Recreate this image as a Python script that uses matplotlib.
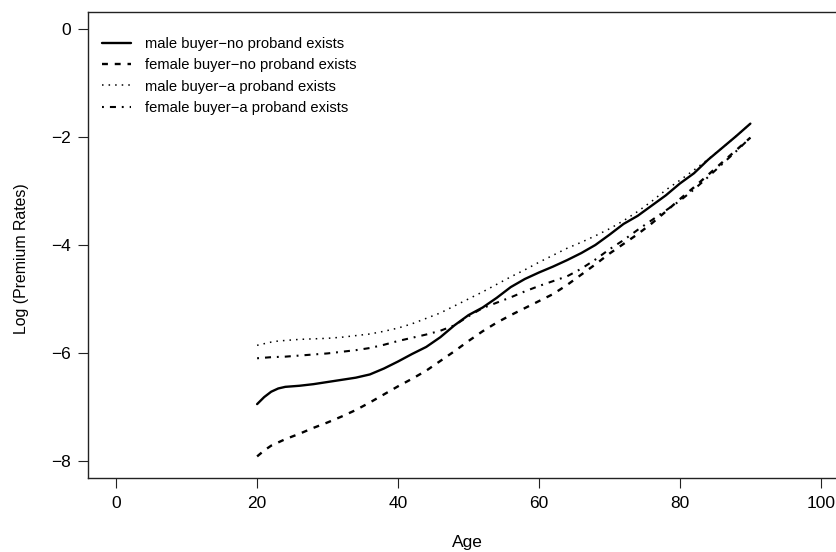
import matplotlib
matplotlib.use("Agg")
import matplotlib.pyplot as plt

plt.rcParams['font.family'] = ['Liberation Sans', 'DejaVu Sans']

# Ages at which the premium curves are evaluated
ages = [20, 21, 22, 23, 24, 26, 28, 30, 32, 34, 36, 38, 40, 42, 44, 46, 48, 50,
        52, 54, 56, 58, 60, 62, 64, 66, 68, 70, 72, 74, 76, 78, 80, 82, 84, 86, 88, 90]

# Log premium rates
male_no_proband = [-6.95, -6.82, -6.72, -6.66, -6.63, -6.61, -6.58, -6.54, -6.50, -6.46,
                   -6.40, -6.29, -6.16, -6.02, -5.89, -5.71, -5.49, -5.30, -5.16, -4.98,
                   -4.78, -4.63, -4.51, -4.40, -4.28, -4.15, -4.00, -3.81, -3.61, -3.46,
                   -3.27, -3.08, -2.86, -2.67, -2.42, -2.20, -1.98, -1.75]
female_no_proband = [-7.92, -7.81, -7.72, -7.66, -7.60, -7.50, -7.39, -7.29, -7.18, -7.06,
                     -6.92, -6.77, -6.62, -6.48, -6.33, -6.15, -5.97, -5.78, -5.60, -5.44,
                     -5.30, -5.17, -5.04, -4.91, -4.74, -4.55, -4.36, -4.16, -3.98, -3.80,
                     -3.60, -3.38, -3.15, -2.93, -2.70, -2.47, -2.24, -2.01]
male_proband = [-5.86, -5.83, -5.80, -5.78, -5.77, -5.75, -5.74, -5.73, -5.71, -5.68,
                -5.65, -5.60, -5.54, -5.46, -5.36, -5.26, -5.13, -5.00, -4.87, -4.73,
                -4.59, -4.46, -4.32, -4.19, -4.06, -3.95, -3.83, -3.70, -3.55, -3.38,
                -3.19, -2.98, -2.80, -2.61, -2.41, -2.20, -1.98, -1.75]
female_proband = [-6.10, -6.09, -6.08, -6.075, -6.07, -6.05, -6.03, -6.01, -5.98, -5.95,
                  -5.91, -5.85, -5.78, -5.72, -5.66, -5.59, -5.49, -5.32, -5.17, -5.07,
                  -4.97, -4.86, -4.76, -4.67, -4.58, -4.44, -4.27, -4.08, -3.91, -3.72,
                  -3.54, -3.36, -3.18, -2.97, -2.74, -2.50, -2.26, -2.01]

labels = ["male buyer\u2212no proband exists",
          "female buyer\u2212no proband exists",
          "male buyer\u2212a proband exists",
          "female buyer\u2212a proband exists"]

x_ticks = [0, 20, 40, 60, 80, 100]
y_ticks = [0, -2, -4, -6, -8]

W, H = 836, 552
AX_L, AX_R, AX_T, AX_B = 88, 849, 12, 478
fig = plt.figure(figsize=(W / 100, H / 100), dpi=100)
ax = fig.add_axes([AX_L / W, (H - AX_B) / H, (AX_R - AX_L) / W, (AX_B - AX_T) / H])

ax.plot(ages, male_no_proband, color='black', lw=1.7, linestyle='-',
        solid_capstyle='round', label=labels[0])
ax.plot(ages, female_no_proband, color='black', lw=1.7, dashes=(2.5, 2.9),
        label=labels[1])
ax.plot(ages, male_proband, color='black', lw=1.1, dashes=(1.0, 3.3),
        label=labels[2])
ax.plot(ages, female_proband, color='black', lw=1.5, dashes=(0.9, 2.9, 2.9, 2.8),
        label=labels[3])

ax.set_xlim(-4, 104)
ax.set_ylim(-8.32, 0.32)
ax.set_xticks(x_ticks)
ax.set_yticks(y_ticks)
ax.set_xticklabels([str(v) for v in x_ticks])
ax.set_yticklabels([str(v).replace('-', '\u2212') for v in y_ticks])
ax.tick_params(axis='both', direction='out', length=7, width=0.8,
               labelsize=12.5, colors='#222222', labelcolor='black')
ax.tick_params(axis='x', pad=6)
ax.tick_params(axis='y', pad=5)
for s in ax.spines.values():
    s.set_linewidth(1.0)
    s.set_color('#222222')

fig.text(467.5 / W, 1 - 542 / H, "Age", ha='center', va='center', fontsize=12.5)
fig.text(22 / W, 1 - 259 / H, "Log (Premium Rates)", ha='center', va='center',
         rotation=90, fontsize=11.4)

leg = ax.legend(loc='upper left',
                bbox_to_anchor=(8 / (AX_R - AX_L), 1 - 19 / (AX_B - AX_T)),
                frameon=False, fontsize=10.6, handlelength=1.95, handletextpad=1.0,
                labelspacing=0.5, borderaxespad=0)

fig.savefig("out.png", dpi=100)
